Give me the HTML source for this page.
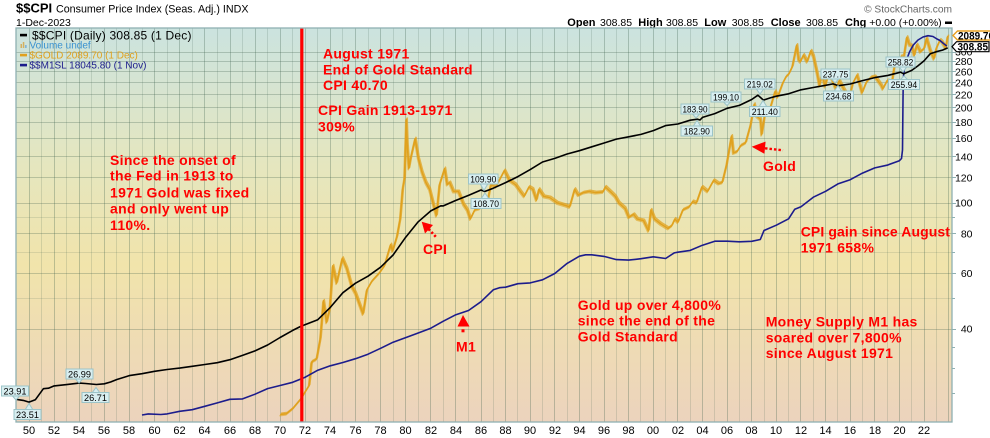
<!DOCTYPE html>
<html><head><meta charset="utf-8">
<style>
html,body{margin:0;padding:0;background:#fff;}
svg{display:block;}
text{font-family:"Liberation Sans",Arial,sans-serif;}
.ann{font-weight:bold;font-size:14px;fill:#ff0000;letter-spacing:0.3px;}
.ax{font-size:10.5px;fill:#000;}
.bx{font-size:11px;fill:#000;}
.tg rect,.tg polygon{fill:#d8eef0;stroke:#9cc4c8;stroke-width:1;}
.tg text{font-size:9.5px;fill:#000;}
</style></head><body>
<svg width="990" height="438" viewBox="0 0 990 438" xmlns="http://www.w3.org/2000/svg">
<defs>
<linearGradient id="bg" x1="0" y1="0" x2="0" y2="1">
<stop offset="0" stop-color="#cbe3df"/>
<stop offset="0.33" stop-color="#e4e6c0"/>
<stop offset="0.6" stop-color="#f1e4ab"/>
<stop offset="1" stop-color="#ecd3bd"/>
</linearGradient>
<clipPath id="clip"><rect x="16" y="28" width="936" height="394"/></clipPath>
</defs>

<!-- header -->
<text x="16" y="12.7" font-weight="bold" font-size="13">$$CPI</text>
<text x="56" y="12.7" font-size="10.7">Consumer Price Index (Seas. Adj.) INDX</text>
<text x="16" y="26" font-size="10.5">1-Dec-2023</text>
<text x="952" y="12.5" font-size="10.2" fill="#666" text-anchor="end">© StockCharts.com</text>
<g font-size="11">
<text x="567.3" y="26" font-weight="bold">Open</text><text x="600" y="26" font-size="10.5">308.85</text>
<text x="638.3" y="26" font-weight="bold">High</text><text x="666" y="26" font-size="10.5">308.85</text>
<text x="704.3" y="26" font-weight="bold">Low</text><text x="731.7" y="26" font-size="10.5">308.85</text>
<text x="770.7" y="26" font-weight="bold">Close</text><text x="806" y="26" font-size="10.5">308.85</text>
<text x="845" y="26" font-weight="bold">Chg</text><text x="869.3" y="26" font-size="10.5">+0.00 (+0.00%)</text>
</g>
<rect x="945" y="21.5" width="7" height="2.5" fill="#000"/>

<!-- plot background -->
<rect x="16" y="28" width="936" height="394" fill="url(#bg)"/>

<!-- grid -->
<path fill="none" stroke="rgba(60,95,75,0.17)" stroke-width="1" d="M41.5,28V422M66.5,28V422M91.5,28V422M116.5,28V422M142.5,28V422M167.5,28V422M192.5,28V422M217.5,28V422M242.5,28V422M267.5,28V422M292.5,28V422M317.5,28V422M342.5,28V422M368.5,28V422M393.5,28V422M418.5,28V422M443.5,28V422M468.5,28V422M493.5,28V422M517.5,28V422M542.5,28V422M567.5,28V422M591.5,28V422M616.5,28V422M640.5,28V422M665.5,28V422M690.5,28V422M714.5,28V422M739.5,28V422M764.5,28V422M788.5,28V422M813.5,28V422M837.5,28V422M862.5,28V422M887.5,28V422M911.5,28V422M936.5,28V422"/>
<path fill="none" stroke="rgba(60,95,75,0.3)" stroke-width="1" d="M29.5,28V422M54.5,28V422M79.5,28V422M104.5,28V422M129.5,28V422M154.5,28V422M179.5,28V422M204.5,28V422M230.5,28V422M255.5,28V422M280.5,28V422M305.5,28V422M330.5,28V422M355.5,28V422M380.5,28V422M405.5,28V422M430.5,28V422M455.5,28V422M481.5,28V422M505.5,28V422M530.5,28V422M554.5,28V422M579.5,28V422M604.5,28V422M628.5,28V422M653.5,28V422M677.5,28V422M702.5,28V422M727.5,28V422M751.5,28V422M776.5,28V422M800.5,28V422M825.5,28V422M850.5,28V422M874.5,28V422M899.5,28V422M924.5,28V422M948.5,28V422"/>
<path fill="none" stroke="rgba(60,95,75,0.28)" stroke-width="1" d="M16,52.5H952M16,61.5H952M16,71.5H952M16,82.5H952M16,94.5H952M16,107.5H952M16,122.5H952M16,138.5H952M16,156.5H952M16,177.5H952M16,203.5H952M16,233.5H952M16,273.5H952M16,329.5H952"/>
<path fill="none" stroke="rgba(60,95,75,0.14)" stroke-width="1" d="M16,217.5H952M16,252.5H952M16,298.5H952"/>

<!-- series -->
<g clip-path="url(#clip)" fill="none" stroke-linejoin="round">
<path id="gold" stroke="#e0a11e" stroke-width="1.5" d="M280.1,414.5L286.4,413.7L292.7,408.6L297.7,402.6L301.5,398.1L305.2,391.7L309,385.7L311.5,362L316.5,359.1L320.3,338.4L323.4,300.8L326.6,322.4L329.7,308.8L332.8,265.8L336.6,283.2L342.3,258.2L346.7,268.5L351.7,286.5L355.5,293.4L363,314.1L366.8,289.9L371.8,281.3L379.3,273L384.4,265.8L390.6,244.6L392.5,251.1L396.9,236.5L400.1,219L402.6,189.2L404.4,178.3L406.3,119.3L407.2,144.2L408.8,168.5L410.7,158L415.1,138.6L418.2,158L422,172.3L425.8,182.5L429.5,189.2L433.3,204.2L436.4,215.8L439.5,184.6L444.6,168.5L447.1,184.6L449.6,182.5L453.4,191.5L458.4,191.5L463.4,204.2L467.2,209.9L470.3,219L474.7,209.9L479.7,208.4L483.5,202.9L487.2,202.9L490.8,184.6L495.8,186.9L501.9,175.2L504.4,170.4L509.3,180.3L515.5,184.6L520.4,191.5L524.1,196.4L529,186.9L532.7,189.2L536.4,200.2L538.9,189.2L543.8,196.4L550,197.7L557.3,202.9L566,205.6L569.6,207L574.6,189.2L578.2,195.2L583.2,192.7L589.3,191.5L595.5,192.7L602.9,192L605.3,186.9L611.5,192.7L615.2,196.4L618.9,202.9L625,208.4L628.7,217.4L633.6,214.3L637.3,219L643.5,220.6L648.4,230.9L650.9,209.9L654.5,219L660.7,223.9L668.1,228.4L671.8,225.6L674.8,219L677.9,222.2L682.8,209.9L689,207L692.7,201.5L696.4,202.9L701.9,186.9L707.5,191.5L713.6,180.3L718.5,183.6L722.2,182.5L726.5,164.8L731.5,136L733.3,153.1L737,151.6L740.7,145.6L745.6,142.8L750.5,124.9L754.2,104.2L756.7,116.1L760.4,119.3L761.6,134.7L765.3,111L769,112L775.1,91.3L777.6,97.1L782.5,83.5L786.2,76.4L788.6,74.4L792.3,66.6L796.7,45L798.5,59.5L800.3,61.8L803.4,55L807.1,61.8L810.8,50.8L813.3,56.1L817,73L819.4,85.8L821.9,73.7L825,86.6L828.1,74.4L831.8,78.5L836.1,89.7L839.2,80.6L844.1,89.7L849,98.8L852.7,83.5L857,75L862,92.9L866.3,82.1L871.2,77.1L874.8,76.4L881,85L882.8,88.9L887.1,80.6L892,81.4L894.5,65.4L898.8,65.4L901.3,56.1L902.1,67.9L904.3,53.4L906.8,37.2L909.3,44.7L911.7,45.7L914.2,55.6L916.7,44.7L920.3,51.8L924,48.7L926.5,38.1L930.2,50.8L933.9,58.9L936.3,48.2L940,40L941.9,41.8L945.6,48.2L947.7,35.9"/>
<use href="#gold" transform="translate(0.9,-1.3)" stroke-width="1" opacity="0.75"/>
<use href="#gold" transform="translate(-0.6,1.2)" stroke-width="0.9" opacity="0.6"/>
<path stroke="#1c1c8c" stroke-width="1.6" d="M142,415L148.3,413.9L160.8,414.5L167.1,413.9L179.7,411.3L192.2,409.7L204.8,406.3L217.3,402.9L229.9,399.3L242.5,398.9L255,394.2L267.6,388.6L280.1,385.5L292.7,382.3L305.2,377.2L317.8,370.2L330.3,365.8L342.9,362.5L355.5,358.7L368,354.2L380.6,348.3L393.1,342.2L405.7,337.6L418.2,333L430.8,328.2L443.3,321.2L455.9,314.7L468.5,310.5L481,301.7L493.3,289.8L499.5,287.7L505.6,287.2L517.9,283.7L530.2,282.9L542.5,279.8L554.8,273.5L567.1,263.4L579.4,256.2L585.6,254.8L591.8,254.8L604.1,256.4L616.4,259.6L628.7,260.1L641,258.7L653.3,256.8L665.6,258.5L674.2,252.9L677.9,252.2L690.2,250.4L702.5,245.2L714.8,241.2L727.1,241.2L739.4,241.8L751.7,241.3L760.3,239.5L764,230.5L776.3,225.2L788.6,218.8L794.8,209.2L801,206.7L813.3,197.2L825.6,191.3L837.9,183.9L850.2,179.7L862.5,173.1L874.8,167.9L887.1,165.2L899.4,160.7L901.5,158.5L902.5,150L903,100L903.3,78L904.5,68L906.5,60L909.5,52L913.3,45L918,40L923,37L928,35.7L933,36.5L937,39L940,40.5L943.5,43.5L946.8,46"/>
<path stroke="#000" stroke-width="1.6" d="M15.9,399.2L18.3,399.7L23.3,400.4L29,402.1L35.3,399.8L43.4,388.7L48.5,388.2L54.1,385.9L66.7,384.6L79.2,383.1L85.5,383.5L96.4,384.5L104.3,383.8L110.6,382L116.9,379.5L129.4,375.6L142,373.7L154.6,371.3L167.1,369.5L179.7,368.1L192.2,366.3L204.8,364.5L217.3,362.7L229.9,359.7L242.5,355.4L255,350.9L267.6,345L280.1,337.5L292.7,330.4L300.2,326.6L305.2,324.6L317.8,319.7L330.3,307.4L342.9,292.7L355.5,283.2L368,276.2L380.6,267.2L393.1,255L405.7,237.2L418.2,221.8L430.8,210.9L440.8,205.8L443.3,205.9L455.9,200.4L468.5,195.4L481,190L484.7,191.5L493.3,188.2L505.6,182.6L517.9,176.6L530.2,169.6L542.5,162L554.8,158.4L567.1,154L579.4,150.7L591.8,146.8L604.1,143L616.4,139.1L628.7,136.8L641,134.4L653.3,130.6L665.6,125.6L677.9,124L690.2,120.2L697.6,119.2L700,120L702.5,117.4L714.8,113.6L727.1,108.3L739.4,105.4L751.7,99.5L757.9,95.2L763.4,100.1L770.2,97.9L776.3,96.2L788.6,93.8L801,89.8L813.3,87.5L825.6,85.3L833,83.9L838.5,85.7L850.2,84L862.5,80.6L874.8,77.6L887.1,75.6L900.6,72.2L903.7,73.8L911.7,70.4L917.9,65.9L924,60.9L930.2,53.8L936.3,51.7L942.5,50.1L947.7,47.9"/>
</g>

<!-- red vertical line -->
<rect x="300.2" y="28" width="3.2" height="394" fill="#ff0000"/>

<!-- frame -->
<rect x="16" y="28" width="936" height="394" fill="none" stroke="#8fb0b2" stroke-width="1.3"/>
<path stroke="#8fb0b2" stroke-width="1" d="M952,52.5h4M952,61.5h4M952,71.5h4M952,82.5h4M952,94.5h4M952,107.5h4M952,122.5h4M952,138.5h4M952,156.5h4M952,177.5h4M952,203.5h4M952,217.5h3M952,233.5h4M952,252.5h3M952,273.5h4M952,298.5h3M952,329.5h4M952,347.5h3M952,368.5h3M952,393.5h3"/>

<!-- right axis labels -->
<g class="ax" text-anchor="end">
<text x="972.5" y="55.7">300</text>
<text x="972.5" y="65.1">280</text>
<text x="972.5" y="75.3">260</text>
<text x="972.5" y="86.3">240</text>
<text x="972.5" y="98.3">220</text>
<text x="972.5" y="111.4">200</text>
<text x="972.5" y="125.9">180</text>
<text x="972.5" y="142.1">160</text>
<text x="972.5" y="160.4">140</text>
<text x="972.5" y="181.6">120</text>
<text x="972.5" y="206.7">100</text>
<text x="972.5" y="237.4">80</text>
<text x="972.5" y="276.9">60</text>
<text x="972.5" y="332.7">40</text>
</g>

<!-- bottom axis labels -->
<g class="bx" text-anchor="middle">
<text x="29" y="434">50</text><text x="54" y="434">52</text><text x="79" y="434">54</text><text x="104" y="434">56</text><text x="129" y="434">58</text><text x="154.5" y="434">60</text><text x="179.5" y="434">62</text><text x="204.5" y="434">64</text><text x="230" y="434">66</text><text x="255" y="434">68</text><text x="280" y="434">70</text><text x="305" y="434">72</text><text x="330" y="434">74</text><text x="355.5" y="434">76</text><text x="380.5" y="434">78</text><text x="405.5" y="434">80</text><text x="431" y="434">82</text><text x="456" y="434">84</text><text x="481" y="434">86</text><text x="505.5" y="434">88</text><text x="530" y="434">90</text><text x="555" y="434">92</text><text x="579.5" y="434">94</text><text x="604" y="434">96</text><text x="628.5" y="434">98</text><text x="653" y="434">00</text><text x="678" y="434">02</text><text x="702.5" y="434">04</text><text x="727" y="434">06</text><text x="751.5" y="434">08</text><text x="776" y="434">10</text><text x="801" y="434">12</text><text x="825.5" y="434">14</text><text x="850" y="434">16</text><text x="875" y="434">18</text><text x="899.5" y="434">20</text><text x="924" y="434">22</text>
</g>

<!-- legend -->
<rect x="20" y="33.8" width="7" height="2.6" fill="#000"/>
<text x="32" y="39.3" font-size="12" letter-spacing="0.2">$$CPI (Daily) 308.85 (1 Dec)</text>
<rect x="20.5" y="44" width="1.5" height="4" fill="#d4b060"/><rect x="22.8" y="42" width="1.5" height="6" fill="#d4b060"/><rect x="25.1" y="45" width="1.5" height="3" fill="#7ab0d8"/>
<text x="29.5" y="48.4" font-size="10" fill="#3a92d0">Volume undef</text>
<rect x="20" y="53.8" width="7" height="2.6" fill="#e0a11e"/>
<text x="29.5" y="58.4" font-size="10" fill="#e0a11e">$GOLD 2089.70 (1 Dec)</text>
<rect x="20" y="63.8" width="7" height="2.6" fill="#1c1c8c"/>
<text x="29.5" y="68.4" font-size="10" fill="#1c1c8c">$$M1SL 18045.80 (1 Nov)</text>

<!-- value tags -->
<g class="tg" text-anchor="middle">
<polygon points="12,395.5 20,395.5 16,400"/><rect x="1.5" y="386" width="27" height="10"/><text x="15" y="394.3" textLength="23" lengthAdjust="spacingAndGlyphs">23.91</text>
<polygon points="25,410 33,410 29,403.5"/><rect x="14" y="409.5" width="27" height="10"/><text x="27.5" y="417.8" textLength="23" lengthAdjust="spacingAndGlyphs">23.51</text>
<polygon points="75,378.5 83,378.5 79,383"/><rect x="66" y="369" width="27" height="10"/><text x="79.5" y="377.3" textLength="23" lengthAdjust="spacingAndGlyphs">26.99</text>
<polygon points="92,393 100,393 96,387.5"/><rect x="82" y="392.5" width="27" height="10"/><text x="95.5" y="400.8" textLength="23" lengthAdjust="spacingAndGlyphs">26.71</text>
<polygon points="480,183.5 488,183.5 484,190.5"/><rect x="468.5" y="174" width="29.5" height="10"/><text x="483.3" y="182.3" textLength="26" lengthAdjust="spacingAndGlyphs">109.90</text>
<polygon points="481,199 489,199 485,193"/><rect x="471" y="198.5" width="30" height="10"/><text x="486" y="206.8" textLength="26" lengthAdjust="spacingAndGlyphs">108.70</text>
<polygon points="692,113.5 700,113.5 696,118"/><rect x="681" y="104" width="28" height="10"/><text x="695" y="112.3" textLength="25" lengthAdjust="spacingAndGlyphs">183.90</text>
<polygon points="693,126.5 701,126.5 697,120.5"/><rect x="681" y="126" width="31.5" height="10"/><text x="696.8" y="134.3" textLength="26" lengthAdjust="spacingAndGlyphs">182.90</text>
<polygon points="723,101.5 731,101.5 727,105.5"/><rect x="711" y="92" width="30" height="10"/><text x="726" y="100.3" textLength="26" lengthAdjust="spacingAndGlyphs">199.10</text>
<polygon points="756,88.5 764,88.5 760,94"/><rect x="744.5" y="79" width="30.5" height="10"/><text x="759.8" y="87.3" textLength="26" lengthAdjust="spacingAndGlyphs">219.02</text>
<polygon points="759,107 767,107 763,100.5"/><rect x="749.5" y="106.5" width="30.5" height="10"/><text x="764.8" y="114.8" textLength="26" lengthAdjust="spacingAndGlyphs">211.40</text>
<polygon points="831,78.5 839,78.5 835,83"/><rect x="821" y="69" width="29" height="10"/><text x="835.5" y="77.3" textLength="25.5" lengthAdjust="spacingAndGlyphs">237.75</text>
<polygon points="834,91.5 842,91.5 838,85.5"/><rect x="823.5" y="91" width="30" height="10"/><text x="838.5" y="99.3" textLength="26" lengthAdjust="spacingAndGlyphs">234.68</text>
<polygon points="899,66.5 907,66.5 903,72"/><rect x="886" y="57" width="29" height="10"/><text x="900.5" y="65.3" textLength="25.5" lengthAdjust="spacingAndGlyphs">258.82</text>
<polygon points="900,80 908,80 904,76"/><rect x="888.5" y="79.5" width="31" height="10"/><text x="904" y="87.8" textLength="26.5" lengthAdjust="spacingAndGlyphs">255.94</text>
</g>

<!-- right edge price tags -->
<polygon points="953,35.5 957.5,31 991,31 991,40 957.5,40" fill="#fff" stroke="#e8a020" stroke-width="1.4"/>
<text x="958" y="39.4" font-size="11" font-weight="bold" textLength="36" lengthAdjust="spacingAndGlyphs">2089.70</text>
<polygon points="952,46.7 956.5,41.7 989,41.7 989,51.7 956.5,51.7" fill="#fff" stroke="#000" stroke-width="1.2"/>
<text x="957.5" y="50.5" font-size="11" font-weight="bold" textLength="30.5" lengthAdjust="spacingAndGlyphs">308.85</text>

<!-- annotations -->
<g class="ann">
<text x="323" y="58.5">August 1971</text>
<text x="323" y="74.5">End of Gold Standard</text>
<text x="323" y="90">CPI 40.70</text>
<text x="318" y="115">CPI Gain 1913-1971</text>
<text x="318" y="131.5">309%</text>
<text x="110" y="165">Since the onset of</text>
<text x="110" y="180.7">the Fed in 1913 to</text>
<text x="110" y="197.3">1971 Gold was fixed</text>
<text x="110" y="213.3">and only went up</text>
<text x="110" y="230">110%.</text>
<text x="423" y="254">CPI</text>
<text x="763" y="171">Gold</text>
<text x="800.7" y="236.7" letter-spacing="0.1">CPI gain since August</text>
<text x="800.7" y="252.3">1971 658%</text>
<text x="577.7" y="310">Gold up over 4,800%</text>
<text x="577.7" y="325.7">since the end of the</text>
<text x="577.7" y="341.7">Gold Standard</text>
<text x="765.7" y="326.7">Money Supply M1 has</text>
<text x="765.7" y="342.3">soared over 7,800%</text>
<text x="765.7" y="358">since August 1971</text>
<text x="456" y="351.7">M1</text>
</g>

<!-- arrows -->
<polygon points="421.7,221.7 433,225 425,233.5" fill="#ff0000"/>
<path d="M428.5,229L437,238" stroke="#ff0000" stroke-width="2.6" stroke-dasharray="2.2,2" fill="none"/>
<polygon points="751.7,146.7 765.6,141.6 764.4,153.8" fill="#ff0000"/>
<path d="M765,148.3L783,150.3" stroke="#ff0000" stroke-width="2.4" stroke-dasharray="2.5,2" fill="none"/>
<polygon points="463,315 457.5,326.5 469.5,326.5" fill="#ff0000"/>
<rect x="461.5" y="329.3" width="3" height="3" fill="#ff0000"/>
</svg>
</body></html>
